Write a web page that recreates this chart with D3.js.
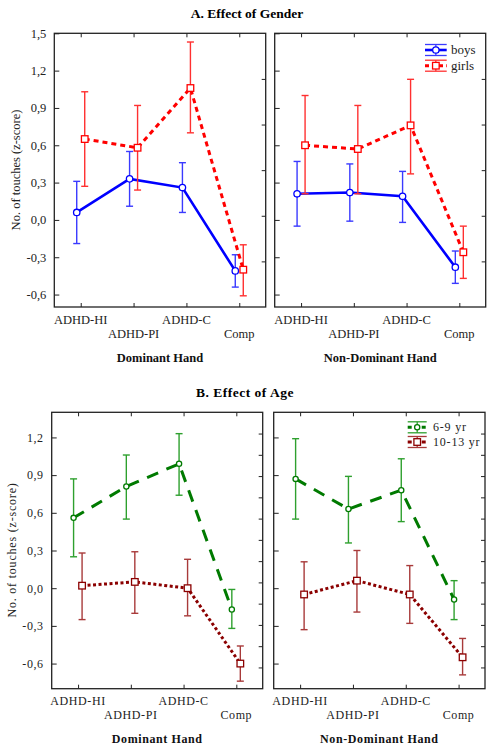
<!DOCTYPE html>
<html><head><meta charset="utf-8">
<script src="https://cdn.jsdelivr.net/npm/d3@7"></script>
<style>body{margin:0;background:#fff}svg{display:block}</style>
</head><body>
<svg id="c" width="497" height="756"></svg>
<script>
const categories = ["ADHD-HI","ADHD-PI","ADHD-C","Comp"];
const ticksA = [-0.6,-0.3,0,0.3,0.6,0.9,1.2,1.5];
const ticksB = [-0.6,-0.3,0,0.3,0.6,0.9,1.2];
const domainA = [-0.7,1.5];
const domainB = [-0.8,1.4];
const handLabels = ["Dominant Hand","Non-Dominant Hand"];
const titles = ["A. Effect of Gender","B. Effect of Age"];
const legendA = ["boys","girls"];
const legendB = ["6-9 yr","10-13 yr"];
// A: gender, dominant hand
const boysDom = [0.06,0.33,0.26,-0.41];
const boysDomLo = [-0.19,0.11,0.06,-0.54];
const boysDomHi = [0.31,0.55,0.46,-0.28];
const girlsDom = [0.65,0.58,1.06,-0.40];
const girlsDomLo = [0.27,0.24,0.70,-0.61];
const girlsDomHi = [1.03,0.92,1.43,-0.20];
// A: gender, non-dominant hand
const boysND = [0.21,0.22,0.19,-0.38];
const boysNDLo = [-0.05,-0.01,-0.02,-0.51];
const boysNDHi = [0.47,0.45,0.39,-0.25];
const girlsND = [0.60,0.57,0.76,-0.26];
const girlsNDLo = [0.21,0.21,0.37,-0.47];
const girlsNDHi = [1.00,0.92,1.13,-0.05];
// B: age, dominant hand
const youngDom = [0.56,0.81,0.99,-0.17];
const youngDomLo = [0.25,0.55,0.74,-0.32];
const youngDomHi = [0.87,1.06,1.23,-0.01];
const olderDom = [0.02,0.05,0.00,-0.60];
const olderDomLo = [-0.25,-0.20,-0.22,-0.74];
const olderDomHi = [0.28,0.29,0.23,-0.46];
// B: age, non-dominant hand
const youngND = [0.87,0.63,0.78,-0.09];
const youngNDLo = [0.55,0.36,0.53,-0.25];
const youngNDHi = [1.19,0.89,1.03,0.06];
const olderND = [-0.05,0.06,-0.05,-0.55];
const olderNDLo = [-0.33,-0.19,-0.28,-0.69];
const olderNDHi = [0.21,0.30,0.18,-0.40];

const SERIF = "Liberation Serif";
const svg = d3.select("#c");
const fmt = d => d3.format(".1f")(d).replace(".", ",").replace("\u2212","-");

const styles = {
  boys:  {line:"#0000ff", bar:"#3a3aff", w:2.6, dash:null, marker:"circle", r:3.2},
  girls: {line:"#ff0000", bar:"#ff3030", w:3, dash:"5,4", marker:"square", r:3.3},
  young: {line:"#007a00", bar:"#2ea02e", w:3, dash:"12,9", marker:"circle", r:2.6},
  older: {line:"#8b0000", bar:"#a83a3a", w:3, dash:"3,2.5", marker:"square", r:3.3}
};

function drawPlot(g, x0, x1, y0, y1, domain, ticks, rightDiv, showLabels, seriesList, xl) {
  const y = d3.scaleLinear().domain(domain).range([y1, y0]);
  const x = d3.scalePoint().domain(categories).range([x0, x1]).padding(0.5);
  const frame = "#222";
  const la = g.append("g").attr("transform",`translate(${x0},0)`)
    .call(d3.axisLeft(y).tickValues(ticks).tickSize(-5).tickPadding(showLabels?8:0).tickFormat(showLabels?fmt:""));
  la.attr("font-family",SERIF);
  la.select(".domain").remove();
  la.selectAll("line").attr("stroke",frame);
  la.selectAll("text").attr("font-size",xl.tickFont).attr("fill","#222").attr("letter-spacing",xl.ls);
  const rs = d3.scaleLinear().domain([0,rightDiv]).range([y1,y0]);
  const ra = g.append("g").attr("transform",`translate(${x1},0)`)
    .call(d3.axisRight(rs).tickValues(d3.range(1,rightDiv)).tickSize(-4).tickFormat(""));
  ra.select(".domain").remove(); ra.selectAll("line").attr("stroke",frame);
  const ta = g.append("g").attr("transform",`translate(0,${y0})`)
    .call(d3.axisTop(x).tickSize(-4).tickFormat(""));
  ta.select(".domain").remove(); ta.selectAll("line").attr("stroke",frame);
  const ba = g.append("g").attr("transform",`translate(0,${y1})`)
    .call(d3.axisBottom(x).tickSize(-4).tickFormat(""));
  ba.select(".domain").remove(); ba.selectAll("line").attr("stroke",frame);
  g.append("rect").attr("x",x0).attr("y",y0).attr("width",x1-x0).attr("height",y1-y0)
    .attr("fill","none").attr("stroke",frame).attr("stroke-width",1.3);
  categories.forEach((c,i)=>{
    g.append("text").attr("x",x(c)).attr("y",y1 + (i%2===0?xl.lab1:xl.lab2))
      .attr("text-anchor","middle").attr("font-size",xl.tickFont).attr("fill","#222")
      .attr("font-family",SERIF).attr("letter-spacing",xl.ls).text(c);
  });
  g.append("text").attr("x",(x0+x1)/2).attr("y",y1+xl.axisLab).attr("text-anchor","middle")
    .attr("font-size",xl.tickFont).attr("font-weight","bold").attr("fill","#111")
    .attr("font-family",SERIF).attr("letter-spacing",xl.ls).text(xl.hand);
  seriesList.forEach(s=>{
    const st = styles[s.key];
    const px = (c)=> x(c) + s.off;
    categories.forEach((c,i)=>{
      const cx = px(c);
      g.append("line").attr("x1",cx).attr("x2",cx).attr("y1",y(s.lo[i])).attr("y2",y(s.hi[i]))
        .attr("stroke",st.bar).attr("stroke-width",1.4);
      [s.lo[i],s.hi[i]].forEach(v=>{
        g.append("line").attr("x1",cx-3.5).attr("x2",cx+3.5).attr("y1",y(v)).attr("y2",y(v))
          .attr("stroke",st.bar).attr("stroke-width",1.4);
      });
    });
    const line = d3.line().x((d,i)=>px(categories[i])).y(d=>y(d));
    g.append("path").datum(s.mean).attr("d",line).attr("fill","none")
      .attr("stroke",st.line).attr("stroke-width",st.w).attr("stroke-dasharray",st.dash);
    categories.forEach((c,i)=>drawMarker(g, st, px(c), y(s.mean[i])));
  });
}

function drawMarker(g, st, cx, cy) {
  if (st.marker==="circle") {
    g.append("circle").attr("cx",cx).attr("cy",cy).attr("r",st.r)
      .attr("fill","#fff").attr("stroke",st.line).attr("stroke-width",1.3);
  } else {
    g.append("rect").attr("x",cx-st.r).attr("y",cy-st.r).attr("width",2*st.r).attr("height",2*st.r)
      .attr("fill","#fff").attr("stroke",st.line).attr("stroke-width",1.3);
  }
}

function drawLegend(g, items, x0, x1, ys, tx, font, ls) {
  items.forEach(it=>{
    const st = styles[it.key];
    const cy = ys[it.idx], cx=(x0+x1)/2;
    [cy-5.5, cy+5.5].forEach(v=>g.append("line").attr("x1",x0).attr("x2",x1).attr("y1",v).attr("y2",v)
      .attr("stroke",st.bar).attr("stroke-width",1.3));
    g.append("line").attr("x1",cx).attr("x2",cx).attr("y1",cy-5.5).attr("y2",cy+5.5).attr("stroke",st.bar).attr("stroke-width",1.3);
    g.append("line").attr("x1",x0).attr("x2",x1).attr("y1",cy).attr("y2",cy)
      .attr("stroke",st.line).attr("stroke-width",st.w).attr("stroke-dasharray",st.dash?"4,3":null);
    drawMarker(g, st, cx, cy);
    g.append("text").attr("x",tx).attr("y",cy+4).attr("font-size",font).attr("fill","#222")
      .attr("font-family",SERIF).attr("letter-spacing",ls).text(it.label);
  });
}

const gA = svg.append("g");
gA.append("text").attr("x",247).attr("y",18).attr("text-anchor","middle").attr("font-size",13.5)
  .attr("font-family",SERIF).attr("font-weight","bold").text(titles[0]);
gA.append("text").attr("transform","translate(20,170) rotate(-90)").attr("text-anchor","middle")
  .attr("font-family",SERIF).attr("font-size",12.5).attr("fill","#222").text("No. of touches (z-score)");
const xlA = {tickFont:12.5, ls:0, lab1:17, lab2:31, axisLab:55};
drawPlot(gA.append("g"),54.3,265.7,33.3,307,domainA,ticksA,6,true,[
  {key:"boys",mean:boysDom,lo:boysDomLo,hi:boysDomHi,off:-4},
  {key:"girls",mean:girlsDom,lo:girlsDomLo,hi:girlsDomHi,off:4}],{...xlA,hand:handLabels[0]});
drawPlot(gA.append("g"),274.7,485.7,33.3,307,domainA,ticksA,6,false,[
  {key:"boys",mean:boysND,lo:boysNDLo,hi:boysNDHi,off:-4},
  {key:"girls",mean:girlsND,lo:girlsNDLo,hi:girlsNDHi,off:4}],{...xlA,hand:handLabels[1]});
drawLegend(gA,[{key:"boys",label:legendA[0],idx:0},{key:"girls",label:legendA[1],idx:1}],425,446.7,[50,65.7],451,13,0);

const gB = svg.append("g");
gB.append("text").attr("x",245).attr("y",397).attr("text-anchor","middle").attr("font-size",13.5)
  .attr("font-family",SERIF).attr("font-weight","bold").attr("letter-spacing",0.5).text(titles[1]);
gB.append("text").attr("transform","translate(16,550) rotate(-90)").attr("text-anchor","middle")
  .attr("font-family",SERIF).attr("font-size",12).attr("fill","#222").attr("letter-spacing",0.8).text("No. of touches (z-score)");
const xlB = {tickFont:12, ls:0.6, lab1:16, lab2:30, axisLab:54};
drawPlot(gB.append("g"),51.7,262.7,412.3,688.7,domainB,ticksB,13,true,[
  {key:"young",mean:youngDom,lo:youngDomLo,hi:youngDomHi,off:-4.5},
  {key:"older",mean:olderDom,lo:olderDomLo,hi:olderDomHi,off:4}],{...xlB,hand:handLabels[0]});
drawPlot(gB.append("g"),273.7,485,412.3,688.7,domainB,ticksB,13,false,[
  {key:"young",mean:youngND,lo:youngNDLo,hi:youngNDHi,off:-4.5},
  {key:"older",mean:olderND,lo:olderNDLo,hi:olderNDHi,off:4}],{...xlB,hand:handLabels[1]});
drawLegend(gB,[{key:"young",label:legendB[0],idx:0},{key:"older",label:legendB[1],idx:1}],407.7,426.7,[427.3,442],433,12,0.8);
</script>
</body></html>
